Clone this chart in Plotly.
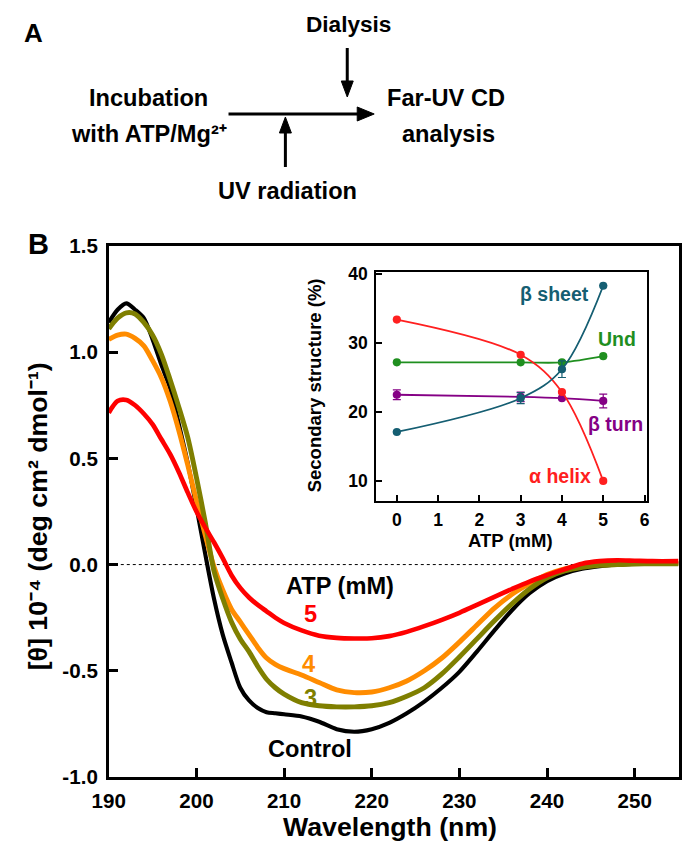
import plotly.graph_objects as go

# ---------------- data ----------------
wavelength = [190, 191, 192, 193, 194, 195, 196, 197, 198, 199, 200, 201, 202, 203, 204, 205,
              206, 207, 208, 209, 210, 212, 214, 216, 218, 220, 222, 224, 226, 228, 230, 232,
              234, 236, 238, 240, 242, 244, 246, 248, 250, 252, 255]
control = [1.14, 1.20, 1.23, 1.20, 1.16, 1.06, 0.94, 0.83, 0.66, 0.48, 0.27, 0.05, -0.16, -0.33,
           -0.46, -0.58, -0.64, -0.675, -0.695, -0.70, -0.705, -0.715, -0.74, -0.775, -0.787,
           -0.775, -0.745, -0.70, -0.645, -0.58, -0.505, -0.41, -0.31, -0.215, -0.135, -0.078,
           -0.042, -0.02, -0.008, 0.0, 0.003, 0.005, 0.005]
atp3 = [1.11, 1.16, 1.185, 1.18, 1.14, 1.08, 0.99, 0.87, 0.74, 0.60, 0.41, 0.20, -0.03, -0.16,
        -0.27, -0.35, -0.41, -0.48, -0.54, -0.58, -0.61, -0.65, -0.665, -0.67, -0.67, -0.665,
        -0.65, -0.62, -0.58, -0.515, -0.435, -0.35, -0.265, -0.185, -0.115, -0.062, -0.03, -0.013,
        -0.004, 0.0, 0.003, 0.004, 0.004]
atp4 = [1.06, 1.08, 1.085, 1.065, 1.03, 0.96, 0.88, 0.77, 0.63, 0.47, 0.30, 0.14, -0.01, -0.12,
        -0.21, -0.27, -0.33, -0.39, -0.44, -0.47, -0.49, -0.52, -0.555, -0.59, -0.603, -0.60,
        -0.58, -0.548, -0.50, -0.44, -0.365, -0.285, -0.205, -0.14, -0.09, -0.047, -0.02, -0.005,
        0.004, 0.007, 0.007, 0.007, 0.007]
atp5 = [0.715, 0.77, 0.775, 0.75, 0.71, 0.66, 0.59, 0.52, 0.435, 0.34, 0.25, 0.175, 0.105, 0.03,
        -0.05, -0.11, -0.155, -0.19, -0.22, -0.25, -0.275, -0.31, -0.335, -0.345, -0.348, -0.347,
        -0.337, -0.317, -0.29, -0.26, -0.227, -0.19, -0.152, -0.115, -0.08, -0.05, -0.022, 0.004,
        0.016, 0.02, 0.018, 0.016, 0.016]

x_ticks = [190, 200, 210, 220, 230, 240, 250]
y_ticks = [-1.0, -0.5, 0.0, 0.5, 1.0, 1.5]

inset_atp = [0, 3, 4, 5]
alpha_helix = [33.4, 28.3, 22.9, 10.0]
beta_sheet = [17.1, 22.0, 26.2, 38.3]
beta_sheet_err = [0, 0.8, 1.2, 0]
und = [27.2, 27.2, 27.2, 28.1]
beta_turn = [22.5, 22.2, 22.0, 21.6]
beta_turn_err = [0.7, 0.7, 0, 1.0]
inset_x_ticks = [0, 1, 2, 3, 4, 5, 6]
inset_y_ticks = [10, 20, 30, 40]

# ---------------- layout helpers ----------------
W, H = 685, 850
FONT = "Arial, Liberation Sans, sans-serif"
# calibration of the photographed page (observed offset / scale)
S, OX, OY = 0.973, 16.0, 11.0


def fx(x):
    return (x - OX) / S


def fy(y):
    return (y - OY) / S


def px(x):
    return fx(x) / W


def py(y):
    return 1 - fy(y) / H


def fs(size):
    return round(size / S, 1)


BLACK = "#000000"
OLIVE = "#7f7f00"
ORANGE = "#ff8c00"
RED = "#ff0000"
TEAL = "#155e72"
GREEN = "#1f8f1f"
PURPLE = "#850085"
IRED = "#ff2020"

fig = go.Figure()

for yv, col, w in [(control, BLACK, 4), (atp4, ORANGE, 4.8), (atp3, OLIVE, 4.8), (atp5, RED, 4.5)]:
    fig.add_trace(go.Scatter(x=wavelength, y=yv, mode="lines",
                             line=dict(color=col, width=w / S, shape="spline", smoothing=0.8),
                             xaxis="x", yaxis="y", showlegend=False, hoverinfo="skip"))


def inset_trace(yv, col, err=None):
    kw = {}
    if err is not None:
        kw["error_y"] = dict(type="data", array=err, visible=True, color=col, thickness=1.2, width=4)
    return go.Scatter(x=inset_atp, y=yv, mode="lines+markers",
                      line=dict(color=col, width=1.8, shape="spline", smoothing=1),
                      marker=dict(color=col, size=8.2), xaxis="x2", yaxis="y2",
                      showlegend=False, hoverinfo="skip", **kw)


fig.add_trace(inset_trace(und, GREEN))
fig.add_trace(inset_trace(beta_turn, PURPLE, beta_turn_err))
fig.add_trace(inset_trace(alpha_helix, IRED))
fig.add_trace(inset_trace(beta_sheet, TEAL, beta_sheet_err))

main_left, main_right, main_top, main_bottom = 108, 679, 245, 776
in_left, in_right, in_top, in_bottom = 376, 647, 271, 500

axis_common = dict(showgrid=False, zeroline=False, linecolor="black", mirror=True,
                   ticks="inside", tickcolor="black")

fig.update_layout(
    width=W, height=H, autosize=False,
    margin=dict(l=0, r=0, t=0, b=0),
    paper_bgcolor="white", plot_bgcolor="white",
    xaxis=dict(domain=[px(main_left), px(main_right)], range=[190, 255], tickvals=x_ticks,
               ticktext=[str(v) for v in x_ticks], linewidth=2.6, ticklen=9, tickwidth=2.6,
               tickfont=dict(family=FONT, size=fs(20), color="black", weight="bold"),
               ticklabelstandoff=4, **axis_common),
    yaxis=dict(domain=[py(main_bottom), py(main_top)], range=[-1.0, 1.5], tickvals=y_ticks,
               ticktext=["%.1f" % v for v in y_ticks], linewidth=2.6, ticklen=9, tickwidth=2.6,
               tickfont=dict(family=FONT, size=fs(20), color="black", weight="bold"),
               ticklabelstandoff=4, **axis_common),
    xaxis2=dict(domain=[px(in_left), px(in_right)], range=[-0.5, 6.05], tickvals=inset_x_ticks,
                anchor="y2", linewidth=2, ticklen=6, tickwidth=2,
                tickfont=dict(family=FONT, size=fs(17), color="black", weight="bold"),
                ticklabelstandoff=2, **axis_common),
    yaxis2=dict(domain=[py(in_bottom), py(in_top)], range=[7.1, 40.3], tickvals=inset_y_ticks,
                anchor="x2", linewidth=2, ticklen=6, tickwidth=2,
                tickfont=dict(family=FONT, size=fs(17), color="black", weight="bold"),
                ticklabelstandoff=3, **axis_common),
)

fig.add_shape(type="line", xref="x", yref="y", x0=190, x1=255, y0=0, y1=0,
              line=dict(color="black", width=1, dash="dot"), layer="below")


def text_raw(xf, yf, s, size, color="black", angle=0):
    # xf, yf in figure pixels
    fig.add_annotation(x=xf / W, y=1 - yf / H, xref="paper", yref="paper", text=s, showarrow=False,
                       textangle=angle, xanchor="center", yanchor="middle",
                       font=dict(family=FONT, size=size, color=color, weight="bold"))


def text(x, y, s, size, color="black", angle=0):
    text_raw(fx(x), fy(y), s, fs(size), color, angle)


def seg(x0, y0, x1, y1, w=3):
    fig.add_shape(type="line", xref="paper", yref="paper", x0=px(x0), y0=py(y0), x1=px(x1), y1=py(y1),
                  line=dict(color="black", width=w))


def tri(pts):
    d = "M " + " L ".join("%.5f,%.5f" % (px(a), py(b)) for a, b in pts) + " Z"
    fig.add_shape(type="path", xref="paper", yref="paper", path=d, fillcolor="black",
                  line=dict(color="black", width=1))


# panel A arrows
seg(228, 113, 360, 113)
tri([(374, 113), (357, 106), (357, 120)])
seg(347, 47, 347, 82)
tri([(347, 96), (341, 80), (353, 80)])
seg(285, 166, 285, 130)
tri([(285, 116), (279, 132), (291, 132)])

# panel A texts
text_raw(17, 22, "A", 26)
text(348, 24, "Dialysis", 22)
text(148, 97, "Incubation", 23)
text(148, 133, "with ATP/Mg²⁺", 23)
text(446, 97, "Far-UV CD", 23)
text(448, 133, "analysis", 23)
text(287, 190, "UV radiation", 23)

# panel B labels
text_raw(22, fy(243), "B", 29)
text(340, 585, "ATP (mM)", 23)
text(310, 613, "5", 23, RED)
text(308, 663, "4", 23, ORANGE)
text(310, 697, "3", 23, OLIVE)
text(310, 748, "Control", 23)
text_raw(fx(390), 837.5, "Wavelength (nm)", fs(26))
text_raw(22, fy(515), "[θ] 10⁻⁴ (deg cm² dmol⁻¹)", fs(26), angle=-90)

# inset labels
text(315, 384, "Secondary structure (%)", 18, angle=-90)
text(511, 540, "ATP (mM)", 18)
text(555, 293, "β sheet", 19, TEAL)
text(617, 338, "Und", 19, GREEN)
text(616, 423, "β turn", 19, PURPLE)
text(560, 475, "α helix", 19, IRED)

fig.write_html("out.html")
